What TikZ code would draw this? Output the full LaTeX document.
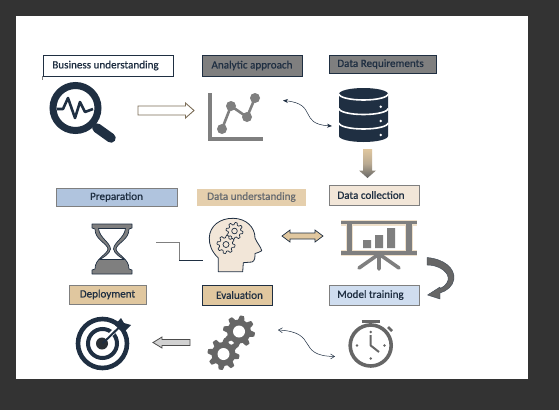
\documentclass[tikz,border=0pt]{standalone}
\usepackage{fontspec}
\setmainfont{Carlito}
\newfontfamily\lblfont[FakeBold=0.7]{Carlito}
\usetikzlibrary{arrows.meta}
\definecolor{navy}{HTML}{1F2F42}
\definecolor{midgray}{HTML}{7F7F7F}
\definecolor{darkgray}{HTML}{666666}
\definecolor{tan}{HTML}{E0C79F}
\definecolor{halo}{HTML}{EFE0CA}
\definecolor{cream}{HTML}{F2E6D8}
\definecolor{steel}{HTML}{B0C4DE}
\definecolor{pale}{HTML}{CFDDEF}
\newcommand{\cogicon}[5]{\draw[#5,line join=round,shift={(#1,#2)}] plot[domain=0:360,samples=145] (\x:{#3*(0.87+0.13*max(-1,min(1,1.8*sin(8*\x+#4))))}) -- cycle;}
\tikzset{
  lbl/.style={draw,inner sep=0pt,text=navy,font=\lblfont\fontsize{11.1}{12}\selectfont,line width=0.9pt},
  thinwave/.style={navy,line width=0.5pt},
  hubpt/.style={circle,fill=midgray,minimum size=10pt,inner sep=0pt}
}
\begin{document}
\begin{tikzpicture}[x=1pt,y=-1pt]
\useasboundingbox (0,0) rectangle (559,410);
\fill[fill=black!80] (0,0) rectangle (559,410);
\fill[white] (16,16) rectangle (528,379);

% labels
\node[lbl,draw=navy,fill=white,minimum width=130pt,minimum height=21pt] (bu) at (108,65.5) {\kern-5pt Business understanding};
\draw[midgray,line width=0.7pt] (bu.south west) -- ++(0,4);
\node[lbl,draw=navy,fill=midgray,minimum width=100pt,minimum height=21pt] (aa) at (252,65.5) {Analytic approach};
\node[lbl,draw=navy,fill=midgray,minimum width=107pt,minimum height=18pt] (dr) at (382.5,64) {\kern-4pt Data Requirements};
\node[lbl,draw=midgray,fill=cream,minimum width=90pt,minimum height=20pt] (dc) at (374,195) {\kern-6pt Data collection};
\node[lbl,draw=none,fill=tan!85!white,text=midgray!75!navy,minimum width=109pt,minimum height=17pt] (du) at (251.5,197) {Data understanding};
\node[lbl,draw=midgray,fill=steel,minimum width=121pt,minimum height=18pt] (pr) at (116.5,197) {Preparation};
\node[lbl,draw=midgray,fill=tan,minimum width=77pt,minimum height=19pt] (de) at (107.5,294.5) {Deployment};
\node[lbl,draw=navy,fill=tan,minimum width=70pt,minimum height=20pt] (ev) at (237,295) {\kern5pt Evaluation};
\node[lbl,draw=midgray,fill=pale,minimum width=90pt,minimum height=20pt] (mt) at (374,295) {\kern-7pt Model training};

% magnifier
\draw[navy,line width=7pt] (75.5,108) circle (22.5);
\draw[navy,line width=9.5pt,line cap=round] (97,128) -- (111,138);
\draw[navy,line width=2.6pt,line join=round] (57,109) -- (63,109) -- (68,98) -- (75,118) -- (80,102) -- (85,112) -- (93,109);

% line chart
\draw[midgray,line width=4pt] (210,93) -- (210,139) -- (263,139);
\draw[midgray,line width=2.6pt] (222,129) -- (231,106) -- (247,117) -- (255,98);
\node[hubpt] (p1) at (222,129) {};
\node[hubpt] (p2) at (231,106) {};
\node[hubpt] (p3) at (247,117) {};
\node[hubpt] (p4) at (255,98) {};

% hollow arrow
\draw[black!45!tan,fill=white,line width=0.9pt,line join=miter] (138,106) -- (185.5,106) -- (185.5,103) -- (194,110.5) -- (185.5,118) -- (185.5,115) -- (138,115) -- cycle;

% wavy 1
\coordinate (w1a) at (283,100.5);
\coordinate (w1b) at (332,126);
\draw[thinwave,{Stealth[length=5pt,width=4pt]}-{Stealth[length=5pt,width=4pt]}] (w1a) .. controls (318,104) and (298,124) .. (w1b);

% database
\fill[navy] (339,94) -- (339,136) arc[start angle=180,end angle=0,x radius=24.5,y radius=6] -- (388,94) arc[start angle=0,end angle=-180,x radius=24.5,y radius=6] -- cycle;
\draw[white,line width=1.6pt] (339,94) arc[start angle=180,end angle=0,x radius=24.5,y radius=6];
\draw[white,line width=1.6pt] (339,108.5) arc[start angle=180,end angle=0,x radius=24.5,y radius=6];
\draw[white,line width=1.6pt] (339,123) arc[start angle=180,end angle=0,x radius=24.5,y radius=6];
\fill[white] (380.7,106.7) circle (1.4) (380.7,121) circle (1.4) (380.7,135) circle (1.4);

% down arrow
\shade[top color=tan,bottom color=darkgray,middle color=tan!60!midgray] (363,149) -- (372,149) -- (372,170.5) -- (376,170.5) -- (367.5,178) -- (359,170.5) -- (363,170.5) -- cycle;

% hourglass
\path[fill=midgray,draw=navy,line width=0.7pt,even odd rule,line join=round]
  (92,224) -- (132,224) -- (132,228) -- (129,229) .. controls (129,240) and (117,243) .. (116,249) .. controls (117,255) and (129,258) .. (129,269) -- (132,270) -- (132,274) -- (92,274) -- (92,270) -- (95,269) .. controls (95,258) and (107,255) .. (108,249) .. controls (107,243) and (95,240) .. (95,229) -- (92,228) -- cycle
  (98.5,228.5) .. controls (99.5,238) and (110,242) .. (110.5,249) .. controls (110,254) and (102,258) .. (100,259.5) -- (124,259.5) .. controls (122,258) and (114,254) .. (113.5,249) .. controls (114,242) and (124.5,238) .. (125.5,228.5) -- cycle;

% step connector
\coordinate (s1) at (156,242.5);
\coordinate (s2) at (179,260.5);
\coordinate (s3) at (203,260.5);
\draw[midgray,line width=0.8pt] (s1) -| (s2);
\draw[navy,line width=0.8pt] (s2) -- (s3);

% head
\draw[navy,fill=cream,line width=0.8pt,line join=round] (218.3,271.7) -- (218.3,258) .. controls (212,252) and (209,245) .. (209.3,238) .. controls (209.5,226) and (220,218) .. (233.3,218.3) .. controls (246,218.5) and (255,227) .. (255,238) .. controls (257,243) and (261,247) .. (261.7,250.7) .. controls (260,252.5) and (257,252.5) .. (255,253.5) .. controls (255,257) and (255,261) .. (252,262) -- (243.3,262.7) -- (242.7,271.7) -- cycle;
\cogicon{234.5}{231}{8.5}{0}{draw=navy,fill=cream,line width=0.7pt}
\draw[navy,line width=0.7pt] (234.5,231) circle (2.8);
\cogicon{226}{244.5}{9}{10}{draw=navy,fill=cream,line width=0.7pt}
\draw[navy,line width=0.7pt] (226,244.5) circle (3);

% double arrow
\draw[navy,fill=tan,line width=0.7pt,line join=miter] (282,236) -- (290,230) -- (290,233) -- (315,233) -- (315,230) -- (323,236) -- (315,242) -- (315,239) -- (290,239) -- (290,242) -- cycle;

% presentation board
\begin{scope}[halo,line width=7.5pt]
\draw (349.3,222) -- (349.3,253) (409,222) -- (409,253);
\draw[line width=6pt] (341,222.5) -- (417,222.5) (341,253) -- (417,253);
\end{scope}
\draw[midgray,line width=5.5pt] (349.3,222) -- (349.3,253) (409,222) -- (409,253);
\draw[midgray,line width=3.6pt] (341,222.5) -- (417,222.5) (341,253) -- (417,253);
\fill[midgray] (363,240) rectangle (371,248) (375,235) rectangle (383,248) (387,228) rectangle (395,248);
\draw[midgray,line width=3.6pt,line cap=round] (379,253) -- (379,269) (379,254) -- (359,268) (379,254) -- (399,268);

% curved arrow
\path[fill=darkgray,draw=navy!70!midgray,line width=0.4pt,line join=round] (427,257.5) .. controls (444,259) and (455,268) .. (454,279) .. controls (453,286) and (447,291) .. (440,293) -- (440,299) -- (427.5,295) -- (440,287) -- (440,288.5) .. controls (446,286) and (449,281) .. (448,277) .. controls (447,271) and (438,265) .. (427,265) -- cycle;

% target
\draw[navy,line width=4.6pt] (102.5,343.5) circle (24.5);
\draw[navy,line width=4pt] (102.5,343.5) circle (14.5);
\fill[black!55!navy!75!midgray] (102,343.5) circle (6);
\draw[white,line width=4.5pt] (106,339) -- (125,321);
\draw[navy,line width=2pt] (102.5,343.5) -- (119,327.5);
\fill[navy] (115,325) -- (121,318) -- (124,323) -- (131,325) -- (125,331) -- (120,330) -- cycle;

% left arrow
\draw[black!70,fill=black!18,line width=0.8pt,line join=miter] (190,339.5) -- (162,339.5) -- (162,337) -- (153,342.5) -- (162,348) -- (162,345.5) -- (190,345.5) -- cycle;

% cogs
\cogicon{239}{331.5}{16}{0}{draw=none,fill=darkgray}
\fill[white] (239,331.5) circle (6);
\cogicon{223.5}{354}{16}{8}{draw=none,fill=darkgray}
\fill[white] (223.5,354) circle (6);

% wavy 2
\coordinate (w2a) at (278,330);
\coordinate (w2b) at (335,356.5);
\draw[thinwave,{Straight Barb[length=4pt,width=5pt]}-{Straight Barb[length=4pt,width=5pt]}] (w2a) .. controls (320,332) and (295,356) .. (w2b);

% stopwatch
\draw[darkgray,line width=3.6pt] (370.7,345.5) circle (20.5);
\draw[darkgray,line width=3pt] (361.5,321) -- (380,321) (370.7,321) -- (370.7,325);
\draw[darkgray,line width=2.6pt] (388,327) -- (392,331);
\draw[darkgray,line width=2pt,line join=round] (370.7,335) -- (370.7,345.5) -- (379,352);
\fill[darkgray] (370.7,332) circle (1.4) (370.7,358.5) circle (1.4) (357,345.5) circle (1.4) (384.5,345.5) circle (1.4);
\end{tikzpicture}
\end{document}
